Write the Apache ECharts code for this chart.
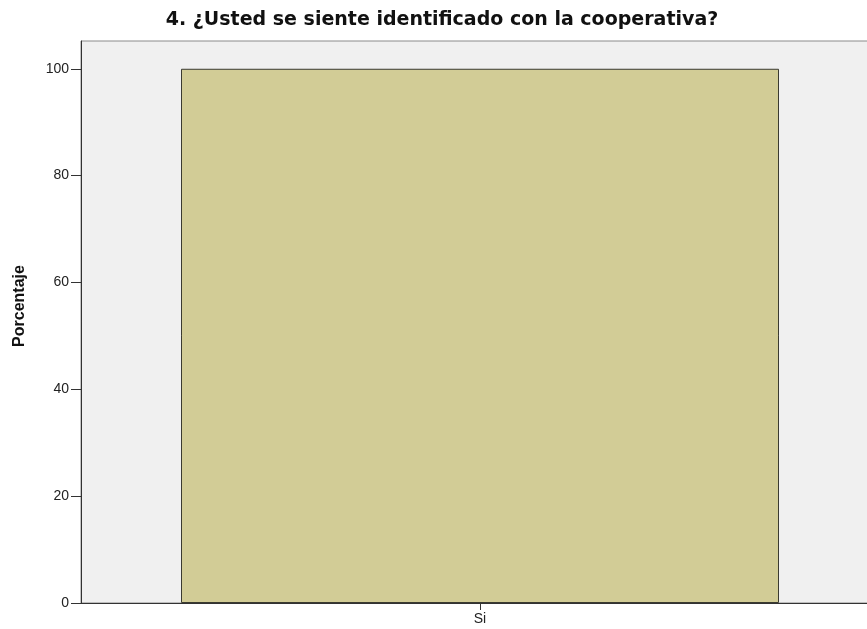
<!DOCTYPE html>
<html><head><meta charset="utf-8">
<script src="https://cdn.jsdelivr.net/npm/echarts@6/dist/echarts.min.js"></script>
<style>html,body{margin:0;padding:0;background:#fff;overflow:hidden;width:867px;height:629px}#c{width:879px;height:629px}</style>
</head><body><div id="c"></div>
<script>
const categories = ['Si'];
const values = [100];
const yTicks = [0, 20, 40, 60, 80, 100];
const titleText = '4. ¿Usted se siente identificado con la cooperativa?';
const yName = 'Porcentaje';

const chart = echarts.init(document.getElementById('c'), null, {renderer: 'canvas'});
chart.setOption({
  animation: false,
  title: {text: titleText, left: 437, top: 6, textAlign: 'center',
    textStyle: {fontFamily: 'DejaVu Sans', fontSize: 19, fontWeight: 'bold', color: '#111'}},
  graphic: [{type: 'text', x: 20, y: 306, rotation: Math.PI / 2,
    style: {text: yName, font: 'bold 16px "Liberation Sans", Arial', fill: '#111', align: 'center', verticalAlign: 'middle'}}],
  grid: {left: 81, right: 0, top: 41, bottom: 26, show: true, backgroundColor: '#f0f0f0', borderColor: '#8a8a8a', borderWidth: 1},
  xAxis: {type: 'category', data: categories,
    axisLine: {lineStyle: {color: '#333', width: 1}},
    axisTick: {show: true, alignWithLabel: true, length: 7, lineStyle: {color: '#333'}},
    axisLabel: {fontFamily: 'Liberation Sans, Arial', fontSize: 14, color: '#222', margin: 9}},
  yAxis: {type: 'value', min: 0, max: 105.2, interval: 20,
    axisLine: {show: true, lineStyle: {color: '#333', width: 1}},
    axisTick: {show: true, inside: false, length: 10, lineStyle: {color: '#333'}},
    splitLine: {show: false},
    axisLabel: {fontFamily: 'Liberation Sans, Arial', fontSize: 14, color: '#222', margin: 12, showMaxLabel: false,
      formatter: v => yTicks.includes(v) ? String(v) : ''}},
  series: [{type: 'bar', data: values, barWidth: 598,
    itemStyle: {color: '#d2cc96', borderColor: '#3a3a30', borderWidth: 1}}]
});
</script></body></html>
